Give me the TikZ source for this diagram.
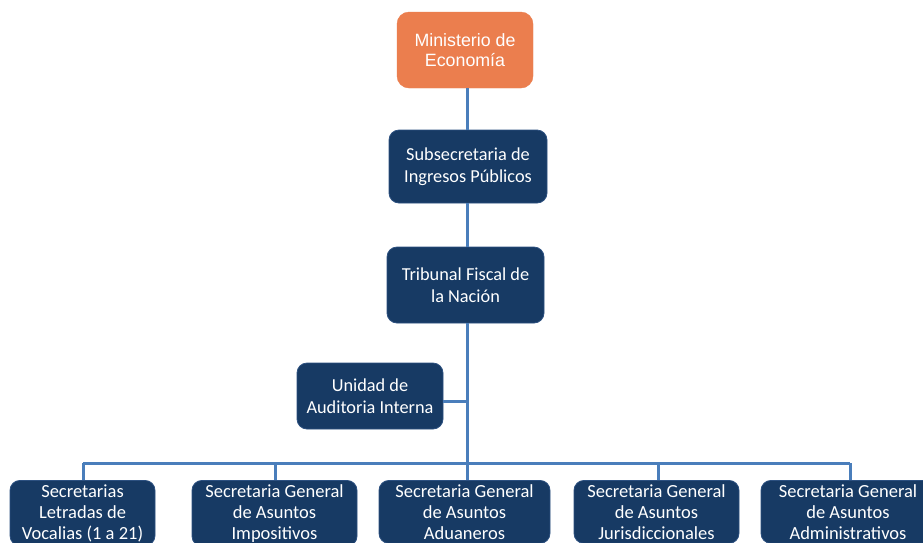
\documentclass[tikz,border=0pt]{standalone}
\usepackage{fontspec}
\setmainfont{Carlito}
\newfontfamily\arialfont{Liberation Sans}
\definecolor{boxblue}{HTML}{173A64}
\definecolor{boxedge}{HTML}{2C5080}
\definecolor{orangebox}{HTML}{EB7E4E}
\definecolor{linkblue}{HTML}{4A7EBB}
\begin{document}
\begin{tikzpicture}[x=1pt,y=-1pt,
  unit/.style={fill=boxblue, draw=boxedge, line width=0.8pt, rounded corners=10pt,
    text=white, align=center, inner sep=0pt, font=\fontsize{18.3}{22}\selectfont},
  topunit/.style={fill=orangebox, draw=orangebox, rounded corners=12pt,
    text=white, align=center, inner sep=0pt, font=\arialfont\fontsize{17.8}{20}\selectfont},
  lowunit/.style={unit, anchor=north, inner ysep=4pt, font=\fontsize{18.5}{21}\selectfont},
  link/.style={draw=linkblue, line width=3pt}]
\useasboundingbox (0,0) rectangle (923,542);
\clip (0,0) rectangle (923,542);
\fill[white] (0,0) rectangle (923,542);
% top levels
\node[topunit, minimum width=136pt, minimum height=76pt] (m) at (465,50) {Ministerio de\\Econom\'ia};
\node[unit, minimum width=158pt, minimum height=73pt] (s) at (468,166.5) {Subsecretaria de\\Ingresos P\'ublicos};
\node[unit, minimum width=157pt, minimum height=76pt] (t) at (465.5,285) {Tribunal Fiscal de\\la Naci\'on};
\node[unit, minimum width=146pt, minimum height=66pt] (u) at (370,396) {Unidad de\\Auditoria Interna};
% bottom row
\node[lowunit, minimum width=145pt] (b1) at (82.5,480) {Secretarias\\Letradas de\\Vocalias (1 a 21)};
\node[lowunit, minimum width=165pt] (b2) at (274.5,480) {Secretaria General\\de Asuntos\\Impositivos};
\node[lowunit, minimum width=171pt] (b3) at (464.5,480) {Secretaria General\\de Asuntos\\Aduaneros};
\node[lowunit, minimum width=165pt] (b4) at (656.5,480) {Secretaria General\\de Asuntos\\Jurisdiccionales};
\node[lowunit, minimum width=174pt] (b5) at (848,480) {Secretaria General\\de Asuntos\\Administrativos};
% coordinates
\coordinate (busL) at (83,463);
\coordinate (busR) at (850,463);
\coordinate (uj) at (467,401);
% connectors
\draw[link] (m.south -| 467,0) -- (s.north -| 467,0);
\draw[link] (s.south -| 467,0) -- (t.north -| 467,0);
\draw[link] (t.south -| 467,0) -- (b3.north -| 467,0);
\draw[link] (u.east |- uj) -- (uj);
\draw[link] (busL) -- (busR);
\draw[link] (busL) -- (b1.north -| busL);
\draw[link] (275,463) -- (b2.north -| 275,0);
\draw[link] (658,463) -- (b4.north -| 658,0);
\draw[link] (busR) -- (b5.north -| busR);
\end{tikzpicture}
\end{document}
